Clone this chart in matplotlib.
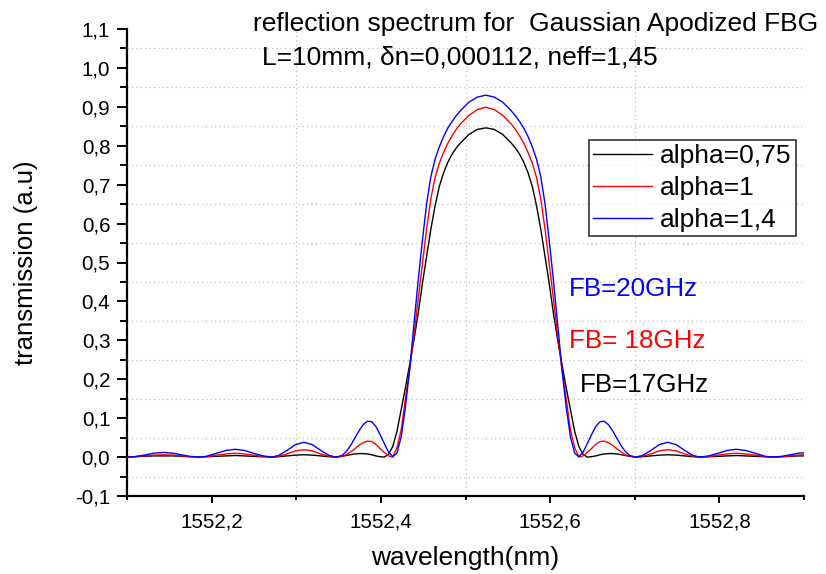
import numpy as np
import matplotlib
matplotlib.use("Agg")
import matplotlib.pyplot as plt
from matplotlib.ticker import MultipleLocator, FixedLocator, FuncFormatter

plt.rcParams['font.family'] = ['Liberation Sans', 'DejaVu Sans']

# ---------------- spectrum data (nm, a.u.) ----------------
wavelength = [
    1552.100, 1552.109, 1552.120, 1552.132, 1552.143, 1552.154, 1552.164, 1552.174,
    1552.185, 1552.194, 1552.206, 1552.217, 1552.228, 1552.239, 1552.249, 1552.261,
    1552.271, 1552.279, 1552.289, 1552.299, 1552.309, 1552.319, 1552.329, 1552.339,
    1552.347, 1552.354, 1552.359, 1552.364, 1552.369, 1552.374, 1552.379, 1552.384,
    1552.389, 1552.394, 1552.399, 1552.404, 1552.409, 1552.414, 1552.419, 1552.424,
    1552.429, 1552.434, 1552.439, 1552.444, 1552.449, 1552.454, 1552.459, 1552.464,
    1552.469, 1552.474, 1552.479, 1552.484, 1552.489, 1552.494, 1552.504, 1552.514,
    1552.524,
    1552.534, 1552.544, 1552.554, 1552.559, 1552.564, 1552.569, 1552.574, 1552.579,
    1552.584, 1552.589, 1552.594, 1552.599, 1552.604, 1552.609, 1552.614, 1552.619,
    1552.624, 1552.629, 1552.634, 1552.639, 1552.644, 1552.649, 1552.654, 1552.659,
    1552.664, 1552.669, 1552.674, 1552.679, 1552.684, 1552.689, 1552.694, 1552.701,
    1552.709, 1552.719, 1552.729, 1552.739, 1552.749, 1552.759, 1552.769, 1552.777,
    1552.787, 1552.799, 1552.809, 1552.820, 1552.831, 1552.842, 1552.854, 1552.863,
    1552.874, 1552.884, 1552.894, 1552.900,
]

refl_a075 = [
    0.000, 0.001, 0.002, 0.003, 0.003, 0.003, 0.002, 0.001,
    0.000, 0.001, 0.002, 0.003, 0.004, 0.003, 0.002, 0.001,
    0.000, 0.001, 0.003, 0.005, 0.006, 0.005, 0.003, 0.001,
    0.000, 0.002, 0.004, 0.006, 0.008, 0.009, 0.009, 0.008,
    0.006, 0.003, 0.001, 0.000, 0.007, 0.027, 0.066, 0.122,
    0.178, 0.238, 0.300, 0.368, 0.445, 0.515, 0.585, 0.645,
    0.695, 0.730, 0.757, 0.778, 0.794, 0.807, 0.829, 0.842,
    0.846,
    0.842, 0.829, 0.807, 0.794, 0.778, 0.757, 0.730, 0.695,
    0.645, 0.585, 0.515, 0.445, 0.368, 0.300, 0.238, 0.178,
    0.122, 0.066, 0.027, 0.007, 0.000, 0.001, 0.003, 0.006,
    0.008, 0.009, 0.009, 0.008, 0.006, 0.004, 0.002, 0.000,
    0.001, 0.003, 0.005, 0.006, 0.005, 0.003, 0.001, 0.000,
    0.001, 0.002, 0.003, 0.004, 0.003, 0.002, 0.001, 0.000,
    0.001, 0.002, 0.003, 0.003,
]

refl_a1 = [
    0.000, 0.001, 0.003, 0.005, 0.006, 0.005, 0.003, 0.001,
    0.000, 0.001, 0.005, 0.008, 0.010, 0.008, 0.005, 0.001,
    0.000, 0.002, 0.008, 0.016, 0.019, 0.016, 0.008, 0.002,
    0.000, 0.002, 0.006, 0.013, 0.021, 0.030, 0.037, 0.041,
    0.040, 0.033, 0.022, 0.012, 0.003, 0.000, 0.024, 0.070,
    0.150, 0.225, 0.310, 0.405, 0.495, 0.585, 0.663, 0.718,
    0.755, 0.782, 0.806, 0.825, 0.842, 0.856, 0.878, 0.893,
    0.899,
    0.893, 0.878, 0.856, 0.842, 0.825, 0.806, 0.782, 0.755,
    0.718, 0.663, 0.585, 0.495, 0.405, 0.310, 0.225, 0.150,
    0.070, 0.024, 0.000, 0.003, 0.012, 0.022, 0.033, 0.040,
    0.041, 0.037, 0.030, 0.021, 0.013, 0.006, 0.002, 0.000,
    0.002, 0.008, 0.016, 0.019, 0.016, 0.008, 0.002, 0.000,
    0.001, 0.005, 0.008, 0.010, 0.008, 0.005, 0.001, 0.000,
    0.001, 0.003, 0.005, 0.006,
]

refl_a14 = [
    0.000, 0.001, 0.005, 0.010, 0.012, 0.010, 0.006, 0.002,
    0.000, 0.002, 0.010, 0.017, 0.020, 0.017, 0.010, 0.003,
    0.000, 0.004, 0.017, 0.032, 0.038, 0.032, 0.017, 0.004,
    0.000, 0.004, 0.014, 0.029, 0.048, 0.067, 0.083, 0.092,
    0.091, 0.079, 0.058, 0.035, 0.013, 0.001, 0.010, 0.052,
    0.128, 0.225, 0.340, 0.452, 0.555, 0.650, 0.720, 0.765,
    0.797, 0.823, 0.845, 0.862, 0.877, 0.890, 0.912, 0.925,
    0.930,
    0.925, 0.912, 0.890, 0.877, 0.862, 0.845, 0.823, 0.797,
    0.765, 0.720, 0.650, 0.555, 0.452, 0.340, 0.225, 0.128,
    0.052, 0.010, 0.001, 0.013, 0.035, 0.058, 0.079, 0.091,
    0.092, 0.083, 0.067, 0.048, 0.029, 0.014, 0.004, 0.000,
    0.004, 0.017, 0.032, 0.038, 0.032, 0.017, 0.004, 0.000,
    0.003, 0.010, 0.017, 0.020, 0.017, 0.010, 0.002, 0.000,
    0.002, 0.006, 0.010, 0.011,
]

series_labels = ['alpha=0,75', 'alpha=1', 'alpha=1,4']
series_colors = ['black', '#ff0000', '#0000ff']
bandwidth_labels = ['FB=17GHz', 'FB= 18GHz', 'FB=20GHz']

W, H = 826, 574
fig = plt.figure(figsize=(W / 100, H / 100), dpi=100)
ax = fig.add_axes([127 / W, 1 - 496 / H, (804 - 127) / W, (496 - 29) / H])

for y, lab, col in zip([refl_a075, refl_a1, refl_a14], series_labels, series_colors):
    ax.plot(wavelength, y, color=col, lw=1.0, label=lab, zorder=3)

ax.set_xlim(1552.1, 1552.9)
ax.set_ylim(-0.1, 1.1)

# dotted grid sits on the minor ticks only
for gx in [1552.3, 1552.5, 1552.7]:
    ax.axvline(gx, color='#bdbdbd', lw=0.9, ls=(0, (1, 2.5)), zorder=1)
for gy in np.arange(-0.05, 1.1, 0.1):
    ax.axhline(gy, color='#bdbdbd', lw=0.9, ls=(0, (1, 2.5)), zorder=1)

ax.xaxis.set_major_locator(FixedLocator([1552.2, 1552.4, 1552.6, 1552.8]))
ax.xaxis.set_minor_locator(FixedLocator([1552.1, 1552.3, 1552.5, 1552.7, 1552.9]))
ax.yaxis.set_major_locator(MultipleLocator(0.1))
ax.yaxis.set_minor_locator(MultipleLocator(0.05))

comma = FuncFormatter(lambda v, p: f'{v:.1f}'.replace('.', ',').replace('-0,0', '0,0'))
ax.xaxis.set_major_formatter(comma)
ax.yaxis.set_major_formatter(comma)

for s in ['top', 'right']:
    ax.spines[s].set_visible(False)
for s in ['left', 'bottom']:
    ax.spines[s].set_linewidth(1.6)

ax.tick_params(axis='both', which='both', direction='out', width=1.4, labelsize=14.8)
ax.tick_params(axis='y', which='major', length=7, pad=5)
ax.tick_params(axis='y', which='minor', length=5)
ax.tick_params(axis='x', which='major', length=5, pad=7)
ax.tick_params(axis='x', which='minor', length=3)

ax.set_xlabel('wavelength(nm)', fontsize=19, labelpad=10)
ax.set_ylabel('transmission (a.u)', fontsize=18.5, labelpad=27)

fig.text(253 / W, 1 - 31 / H, 'reflection spectrum for  Gaussian Apodized FBG',
         fontsize=19, ha='left', va='baseline')
fig.text(262 / W, 1 - 64 / H, 'L=10mm, \u03b4n=0,000112, neff=1,45',
         fontsize=19, ha='left', va='baseline')

# bandwidth notes
for (tx, ty), txt, col in zip([(580, 392), (569, 348), (569, 296)], bandwidth_labels, series_colors):
    fig.text(tx / W, 1 - ty / H, txt, fontsize=18.7, color=col, ha='left', va='baseline')

leg = ax.legend(loc='upper left', bbox_to_anchor=(589 / W, 1 - 140 / H),
                bbox_transform=fig.transFigure, fontsize=19, frameon=True,
                fancybox=False, borderaxespad=0, borderpad=0.15, handlelength=2.25,
                handletextpad=0.3, labelspacing=0.3)
leg.get_frame().set_edgecolor('black')
leg.get_frame().set_linewidth(1.2)

fig.savefig('out.png', dpi=100)
